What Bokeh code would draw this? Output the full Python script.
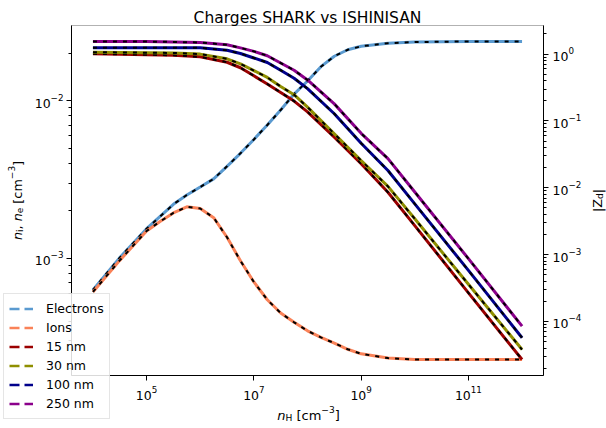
import math
from bokeh.plotting import figure
from bokeh.models import (Range1d, LogAxis, LogScale, FixedTicker, Legend, LegendItem, Label,
                          BoxAnnotation)
from bokeh.embed import file_html
from bokeh.resources import INLINE

# ---------------- data ----------------
nH_e = [1.0e4, 3.16e4, 1.0e5, 3.16e5, 5.62e5, 1.0e6, 1.78e6, 3.16e6, 5.62e6, 1.0e7, 1.78e7,
        3.16e7, 5.62e7, 1.0e8, 1.78e8, 3.16e8, 5.62e8, 1.0e9, 3.16e9, 1.0e10, 1.0e11, 1.0e12]
n_e = [6.31e-4, 1.01e-3, 1.54e-3, 2.20e-3, 2.52e-3, 2.83e-3, 3.19e-3, 3.83e-3, 4.63e-3, 5.67e-3, 7.00e-3,
       8.71e-3, 1.10e-2, 1.33e-2, 1.64e-2, 1.91e-2, 2.10e-2, 2.21e-2, 2.31e-2, 2.35e-2, 2.37e-2, 2.37e-2]

nH_i = [1.0e4, 3.16e4, 1.0e5, 1.78e5, 3.16e5, 5.62e5, 1.0e6, 1.78e6, 3.16e6, 5.62e6, 1.0e7, 1.78e7,
        3.16e7, 5.62e7, 1.0e8, 1.78e8, 3.16e8, 5.62e8, 1.0e9, 3.16e9, 1.0e10, 1.0e11, 1.0e12]
n_i = [6.12e-4, 9.70e-4, 1.49e-3, 1.71e-3, 1.94e-3, 2.12e-3, 2.07e-3, 1.81e-3, 1.36e-3, 9.64e-4, 7.08e-4, 5.46e-4,
       4.50e-4, 3.93e-4, 3.47e-4, 3.15e-4, 2.90e-4, 2.65e-4, 2.48e-4, 2.33e-4, 2.28e-4, 2.28e-4, 2.28e-4]

nH_d = [1.0e4, 1.0e5, 3.16e5, 1.0e6, 3.16e6, 5.62e6, 1.0e7, 1.78e7, 3.16e7, 5.62e7, 1.0e8,
        3.16e8, 1.0e9, 3.16e9, 1.0e10, 1.0e11, 1.0e12]
Z_15 = [1.01, 0.98, 0.96, 0.91, 0.755, 0.625, 0.473, 0.357, 0.267, 0.198, 0.137,
        0.0572, 0.0229, 0.00857, 0.00271, 2.68e-4, 2.69e-5]
Z_30 = [1.07, 1.05, 1.04, 1.00, 0.85, 0.714, 0.566, 0.448, 0.328, 0.247, 0.161,
        0.0643, 0.0256, 0.0105, 0.00343, 3.6e-4, 3.8e-5]
Z_100 = [1.25, 1.25, 1.25, 1.24, 1.14, 1.02, 0.875, 0.75, 0.574, 0.436, 0.305,
         0.128, 0.0464, 0.0181, 0.00575, 5.8e-4, 5.7e-5]
Z_250 = [1.55, 1.54, 1.52, 1.49, 1.38, 1.24, 1.10, 0.944, 0.736, 0.574, 0.411,
         0.180, 0.0653, 0.0273, 0.00865, 8.7e-4, 8.5e-5]

legend_labels = ["Electrons", "Ions", "15 nm", "30 nm", "100 nm", "250 nm"]
colors = ["#5a9ad0", "#fa8258", "#9b0000", "#8f8f00", "#00008b", "#8b008b"]

x_ticks = [1e5, 1e7, 1e9, 1e11]
left_ticks = [1e-3, 1e-2]
right_ticks = [1e-4, 1e-3, 1e-2, 1e-1, 1e0]

# ---------------- geometry ----------------
CW, CH = 606, 428
BL, BR, BT, BB = 71, 543, 25, 375          # axes box in canvas pixels
XLOG = (3.6, 12.4)
YLOG_L = (-3.743, -1.524)
YLOG_R = (-4.809, 0.428)

def ext(lo, hi, box_len, m_lo, m_hi):
    ppd = box_len / (hi - lo)
    return 10 ** (lo - m_lo / ppd), 10 ** (hi + m_hi / ppd)

xr = ext(*XLOG, BR - BL, BL, CW - BR)
yl = ext(*YLOG_L, BB - BT, CH - BB, BT)
yr = ext(*YLOG_R, BB - BT, CH - BB, BT)

p = figure(width=CW, height=CH, x_axis_type="log", y_axis_type="log",
           x_axis_location=None, y_axis_location=None,
           x_range=Range1d(*xr), y_range=Range1d(*yl),
           output_backend="svg", toolbar_location=None,
           min_border_left=0, min_border_right=0, min_border_top=0, min_border_bottom=0)
p.extra_y_ranges = {"z": Range1d(*yr)}
p.extra_y_scales = {"z": LogScale()}
p.xgrid.visible = False
p.ygrid.visible = False
p.outline_line_color = None
p.background_fill_color = "white"
p.border_fill_color = "white"

def minors(lo_log, hi_log):
    vals = [k * 10.0 ** e for e in range(int(math.floor(lo_log)) - 1, int(math.ceil(hi_log)) + 1)
            for k in range(2, 10)]
    return [v for v in vals if lo_log <= math.log10(v) <= hi_log]

x_bounds = (10 ** XLOG[0], 10 ** XLOG[1])
ax_b = LogAxis(fixed_location=10 ** YLOG_L[0], bounds=x_bounds,
               ticker=FixedTicker(ticks=x_ticks, minor_ticks=[]))
ax_l = LogAxis(fixed_location=10 ** XLOG[0], bounds=(10 ** YLOG_L[0], 10 ** YLOG_L[1]),
               ticker=FixedTicker(ticks=left_ticks, minor_ticks=minors(*YLOG_L)))
ax_r = LogAxis(fixed_location=10 ** XLOG[1], y_range_name="z",
               bounds=(10 ** YLOG_R[0], 10 ** YLOG_R[1]),
               ticker=FixedTicker(ticks=right_ticks, minor_ticks=minors(*YLOG_R)))
p.add_layout(ax_b, "below")
p.add_layout(ax_l, "left")
p.add_layout(ax_r, "right")

for ax, so in ((ax_b, 5), (ax_l, 3), (ax_r, 4)):
    ax.axis_line_color = "black"
    ax.axis_line_width = 1
    ax.major_tick_in = 0
    ax.major_tick_out = 5
    ax.minor_tick_in = 0
    ax.minor_tick_out = 3
    ax.major_tick_line_color = "black"
    ax.minor_tick_line_color = "black"
    ax.major_label_text_font = "DejaVu Sans"
    ax.major_label_text_font_size = "12.5px"
    ax.major_label_text_color = "black"
    ax.major_label_standoff = so

p.add_layout(BoxAnnotation(left=x_bounds[0], right=x_bounds[1],
                           bottom=10 ** YLOG_L[0], top=10 ** YLOG_L[1],
                           fill_color=None, fill_alpha=0, line_color="black", line_width=1))

# ---------------- curves ----------------
def curve(xs, ys, color, yname="default"):
    kw = {} if yname == "default" else {"y_range_name": yname}
    p.line(xs, ys, line_color=color, line_width=3, **kw)
    p.line(xs, ys, line_color="black", line_width=2, line_dash="4 6", **kw)

curve(nH_e, n_e, colors[0])
curve(nH_i, n_i, colors[1])
curve(nH_d, Z_15, colors[2], "z")
curve(nH_d, Z_30, colors[3], "z")
curve(nH_d, Z_100, colors[4], "z")
curve(nH_d, Z_250, colors[5], "z")

# legend (dashed coloured samples; the sample renderers hold no visible data)
nan = float("nan")
items = []
for lab, col in zip(legend_labels, colors):
    r = p.line(x=[nan, nan], y=[nan, nan], line_color=col, line_width=2.5, line_dash="10 5")
    items.append(LegendItem(label=lab, renderers=[r]))
legend = Legend(items=items, location=(3, CH - 419), margin=0, padding=5, spacing=0,
                glyph_width=24, glyph_height=19, label_height=19, label_standoff=13,
                label_text_font="DejaVu Sans", label_text_font_size="12.5px",
                label_text_color="black", border_line_color="#cccccc", border_line_width=1,
                background_fill_color="white", background_fill_alpha=0.85)
p.add_layout(legend, "center")

# ---------------- title and axis labels ----------------
p.add_layout(Label(x=(BL + BR) / 2, y=CH - 17, x_units="screen", y_units="screen",
                   text="Charges SHARK vs ISHINISAN", text_font="DejaVu Sans",
                   text_font_size="15.5px", text_color="black", text_align="center",
                   text_baseline="alphabetic"))

W = {'n': 0.634, 'i': 0.278, 'e': 0.615, ',': 0.318, ' ': 0.318, '[': 0.390, 'c': 0.550,
     'm': 0.974, '−': 0.838, '3': 0.636, ']': 0.390, 'H': 0.752, 'Z': 0.686, '|': 0.337, 'd': 0.635}

def rich(parts, cx, cy, size, angle):
    def width(t, k):
        s = 0.7 if k in ("sub", "sup") else 1.0
        return sum(W.get(ch, 0.6) for ch in t) * size * s
    total = sum(width(t, k) for t, k in parts)
    dx, dy = math.cos(angle), math.sin(angle)
    downx, downy = math.sin(angle), -math.cos(angle)
    pos = -total / 2
    for t, k in parts:
        lead = len(t) - len(t.lstrip(" "))
        pos += width(" " * lead, k)
        body = t.strip(" ")
        fs = size * (0.7 if k in ("sub", "sup") else 1.0)
        shift = {"sub": 0.2 * size, "sup": -0.4 * size}.get(k, 0.0)
        x = cx + pos * dx + shift * downx
        y = cy + pos * dy + shift * downy
        p.add_layout(Label(x=x, y=y, x_units="screen", y_units="screen", text=body, angle=angle,
                           text_font="DejaVu Sans", text_font_size=f"{fs:.1f}px",
                           text_font_style="italic" if k == "it" else "normal",
                           text_color="black", text_align="left", text_baseline="alphabetic"))
        pos += width(t.lstrip(" "), k)

rich([("n", "it"), ("H", "sub"), (" [cm", "rm"), ("−3", "sup"), ("]", "rm")],
     308, CH - 414.5, 13, 0.0)
rich([("n", "it"), ("i", "sub"), (", ", "rm"), ("n", "it"), ("e", "sub"), (" [cm", "rm"),
      ("−3", "sup"), ("]", "rm")], 16.5, CH - 200, 12.8, math.pi / 2)
rich([("|Z", "rm"), ("d", "sub"), ("|", "rm")], 597, CH - 200, 12.8, math.pi / 2)

open("out.html", "w").write(file_html(p, INLINE))
